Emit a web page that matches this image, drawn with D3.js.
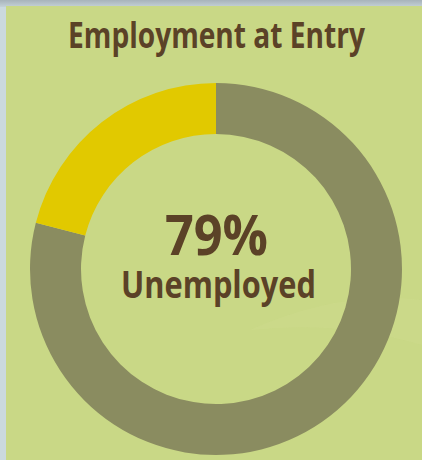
<!DOCTYPE html>
<html><head><meta charset="utf-8">
<script src="https://cdn.jsdelivr.net/npm/d3@7"></script>
<style>html,body{margin:0;padding:0;background:#c9d8dd;}svg{display:block;}</style>
</head><body>
<script>
const title = "Employment at Entry";
const categories = ["Unemployed", "Employed"];
const values = [79, 21];
const colors = ["#8a8c60", "#e1c900"];

const W = 422, H = 460;
const svg = d3.select("body").append("svg").attr("width", W).attr("height", H);

const defs = svg.append("defs");
const tg = defs.append("linearGradient").attr("id","topg").attr("x1",0).attr("y1",0).attr("x2",0).attr("y2",1);
tg.append("stop").attr("offset",0).attr("stop-color","#a7b3ba");
tg.append("stop").attr("offset",1).attr("stop-color","#c4d1d6");
svg.append("rect").attr("x",0).attr("y",0).attr("width",W).attr("height",H).attr("fill","#cbd9de");
svg.append("rect").attr("x",0).attr("y",0).attr("width",W).attr("height",7).attr("fill","url(#topg)");
svg.append("rect").attr("x",6).attr("y",6).attr("width",W-6).attr("height",H-6).attr("fill","#c9d886");
// faint swoosh
svg.append("path").attr("d","M250,330 Q340,290 422,300 L422,345 Q340,320 250,330 Z").attr("fill","#cfdd8f").attr("opacity",0.4);

const cx = 216, cy = 269, rOut = 186, rIn = 135;
const pie = d3.pie().sort(null).value(d => d);
const arc = d3.arc().innerRadius(rIn).outerRadius(rOut);
const g = svg.append("g").attr("transform", `translate(${cx},${cy})`);
g.selectAll("path").data(pie(values)).join("path")
  .attr("d", arc).attr("fill", (d,i) => colors[i]);

function fitText(sel, targetW) {
  const w = sel.node().getComputedTextLength();
  const x = +sel.attr("x"), y = +sel.attr("y");
  const s = targetW / w;
  sel.attr("transform", `translate(${x},${y}) scale(${s},1) translate(${-x},${-y})`);
}
const font = "'Open Sans', sans-serif";
const t1 = svg.append("text").attr("x",216.5).attr("y",48).attr("text-anchor","middle")
  .attr("font-family",font).attr("font-weight",700).attr("font-size",35).attr("fill","#5b4227").text(title);
fitText(t1, 297);
const t2 = svg.append("text").attr("x",216.5).attr("y",255).attr("text-anchor","middle")
  .attr("font-family",font).attr("font-weight",700).attr("font-size",56).attr("fill","#5b4227").text(values[0] + "%");
fitText(t2, 103);
const t3 = svg.append("text").attr("x",218.5).attr("y",298).attr("text-anchor","middle")
  .attr("font-family",font).attr("font-weight",700).attr("font-size",38).attr("fill","#5b4227").text(categories[0]);
fitText(t3, 195);
</script>
</body></html>
